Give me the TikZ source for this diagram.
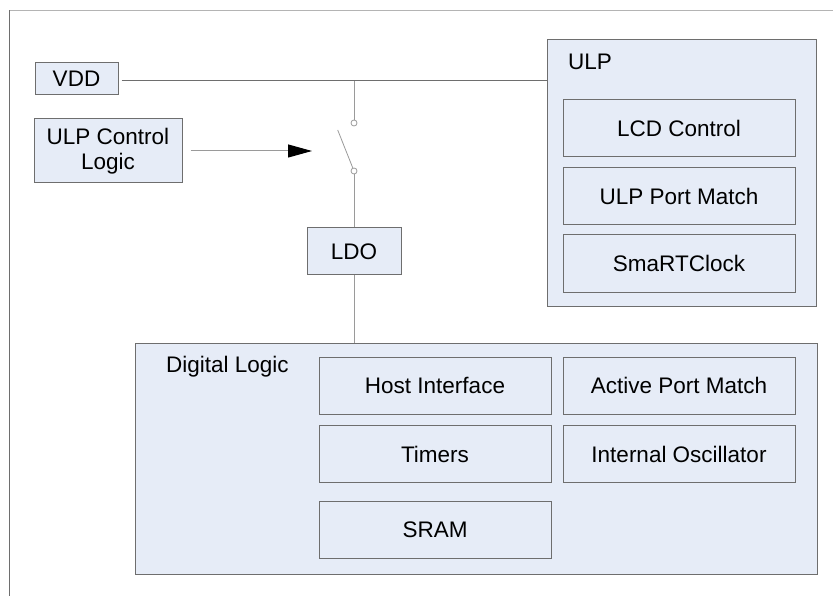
\documentclass[tikz,border=0pt]{standalone}
\usepackage{fontspec}
\setmainfont{Liberation Sans}
\usetikzlibrary{arrows.meta}
\definecolor{boxfill}{HTML}{E6ECF7}
\definecolor{boxline}{HTML}{6E6E6E}
\definecolor{wire}{HTML}{9A9A9A}
\definecolor{vddwire}{HTML}{6E6E6E}
\definecolor{frametop}{HTML}{B4B4B4}
\begin{document}
\begin{tikzpicture}[x=1pt,y=-1pt,
  blk/.style={draw=boxline, fill=boxfill, line width=1pt, inner sep=0pt,
    font=\fontsize{22.5}{24.5}\selectfont, align=center},
  lbl/.style={anchor=west, inner sep=0pt, font=\fontsize{22.5}{24.5}\selectfont},
  wireline/.style={draw=wire, line width=1pt},
  term/.style={circle, draw=wire, fill=white, line width=0.8pt, minimum size=6pt, inner sep=0pt}]
\useasboundingbox (0,0) rectangle (833,596);
% frame
\draw[frametop, line width=1.5pt] (9.5,10.5) -- (833,10.5);
\draw[boxline, line width=1.2pt] (9.5,10.5) -- (9.5,596);
% blocks
\node[blk, minimum width=83pt, minimum height=32pt] (VDD) at (76.5,79) {VDD};
\node[blk, minimum width=148pt, minimum height=64pt] (ULPCL) at (108,151) {ULP Control\\Logic};
\node[blk, minimum width=94pt, minimum height=47pt] (LDO) at (354,251.5) {LDO};
\node[blk, minimum width=269pt, minimum height=266pt] (ULP) at (681.5,173) {};
\node[lbl] (ULPlbl) at (568,62) {ULP};
\node[blk, minimum width=232pt, minimum height=57pt] (LCD) at (679,128.5) {LCD Control};
\node[blk, minimum width=232pt, minimum height=57pt] (ULPPM) at (679,196.5) {ULP Port Match};
\node[blk, minimum width=232pt, minimum height=57pt] (SRTC) at (679,263.5) {SmaRTClock};
\node[blk, minimum width=682pt, minimum height=231pt] (DL) at (476,458.5) {};
\node[lbl] (DLlbl) at (166,367) {Digital Logic};
\node[blk, minimum width=232pt, minimum height=56.5pt] (HI) at (435,385.75) {Host Interface};
\node[blk, minimum width=232pt, minimum height=56.5pt] (APM) at (679,385.75) {Active Port Match};
\node[blk, minimum width=232pt, minimum height=56.5pt] (TIM) at (435,454) {Timers};
\node[blk, minimum width=232pt, minimum height=56.5pt] (IOSC) at (679,454) {Internal Oscillator};
\node[blk, minimum width=232pt, minimum height=56.5pt] (SRAM) at (435,530) {SRAM};
% switch
\coordinate (j) at (354,81);
\node[term] (c1) at (354,123) {};
\node[term] (c2) at (354,171) {};
\coordinate (bladetop) at (337.7,130);
\coordinate (sw) at (312,151);
% connectors
\draw[vddwire, line width=1pt] (VDD.east |- j) ++(3pt,0) -- (ULP.west |- j);
\draw[wireline] (j) -- (c1.north);
\draw[wireline, line width=0.8pt] (bladetop) -- (c2);
\draw[wireline] (c2.south) -- (LDO.north);
\draw[wireline] (LDO.south) -- (LDO.south |- DL.north);
\draw[wireline, -{Triangle[length=24pt,width=13pt,color=black]}] ([xshift=8pt]ULPCL.east) -- (sw);
\end{tikzpicture}
\end{document}
